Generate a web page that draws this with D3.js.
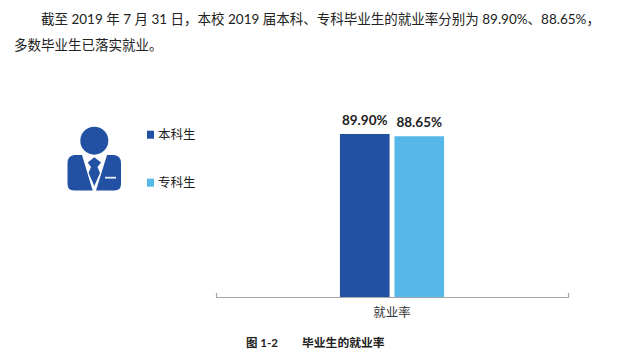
<!DOCTYPE html>
<html>
<head>
<meta charset="utf-8">
<script src="https://cdnjs.cloudflare.com/ajax/libs/d3/7.8.5/d3.min.js"></script>
<style>
html, body { margin: 0; padding: 0; background: #fff; }
svg { display: block; }
text { font-family: Lato, "Noto Sans CJK SC", sans-serif; fill: #222; }
</style>
</head>
<body>
<div id="chart"></div>
<script>
var categories = ["就业率"];
var series = ["本科生", "专科生"];
var values = [89.90, 88.65];
var value_labels = ["89.90%", "88.65%"];
var colors = ["#2251a3", "#56b7e9"];

var svg = d3.select("#chart").append("svg")
    .attr("width", 618)
    .attr("height", 359);

// intro paragraph
svg.append("text")
    .attr("x", 41).attr("y", 23.5)
    .attr("font-size", 13.5)
    .text("截至 2019 年 7 月 31 日，本校 2019 届本科、专科毕业生的就业率分别为 89.90%、88.65%，");
svg.append("text")
    .attr("x", 14).attr("y", 50)
    .attr("font-size", 13.5)
    .text("多数毕业生已落实就业。");

// scales
var x = d3.scaleBand()
    .domain(categories)
    .range([216, 568])
    .paddingOuter(1.19);

var x1 = d3.scaleBand()
    .domain(series)
    .range([x(categories[0]), x(categories[0]) + x.bandwidth()])
    .paddingInner(0.09);

var y = d3.scaleLinear()
    .domain([0, 100])
    .range([297, 115.7]);

// bars
svg.selectAll(".bar")
    .data(values)
  .enter().append("rect")
    .attr("class", "bar")
    .attr("x", function(d, i) { return x1(series[i]); })
    .attr("y", function(d) { return y(d); })
    .attr("width", x1.bandwidth())
    .attr("height", function(d) { return y(0) - y(d); })
    .attr("fill", function(d, i) { return colors[i]; });

svg.selectAll(".bar-label")
    .data(values)
  .enter().append("text")
    .attr("class", "bar-label")
    .attr("x", function(d, i) { return x1(series[i]) + x1.bandwidth() / 2; })
    .attr("y", function(d) { return y(d) - 9; })
    .attr("text-anchor", "middle")
    .attr("font-size", 13.5)
    .attr("font-weight", 700)
    .text(function(d, i) { return value_labels[i]; });

// axis, the outer ticks point upwards
var xAxis = d3.axisBottom(x)
    .tickSizeInner(0)
    .tickSizeOuter(-4)
    .tickPadding(11);
var axis_g = svg.append("g")
    .attr("transform", "translate(0,297)")
    .call(xAxis);
axis_g.select(".domain").attr("stroke", "#a6a6a6").attr("stroke-width", 1.2);
axis_g.selectAll("text")
    .attr("font-size", 12.5)
    .attr("font-family", "\"Noto Sans CJK SC\", sans-serif")
    .style("fill", "#333");

// legend
var legend_y = d3.scalePoint().domain(series).range([134.7, 182.7]);
var legend = svg.selectAll(".legend")
    .data(series)
  .enter().append("g")
    .attr("class", "legend")
    .attr("transform", function(d) { return "translate(147," + legend_y(d) + ")"; });
legend.append("rect")
    .attr("y", -4)
    .attr("width", 7)
    .attr("height", 8)
    .attr("fill", function(d, i) { return colors[i]; });
legend.append("text")
    .attr("x", 11)
    .attr("y", 4.5)
    .attr("font-size", 12.5)
    .text(function(d) { return d; });

// person icon
var icon = svg.append("g").attr("fill", colors[0]);
icon.append("circle").attr("cx", 94.3).attr("cy", 140.7).attr("r", 14);
icon.append("path").attr("d", "M82 155 L92.7 190.5 L74 190.5 Q67.5 190.5 67.5 184 L67.5 163 Q67.5 156 74 155 Z");
icon.append("path").attr("d", "M107 155 L96 190.5 L114.5 190.5 Q121 190.5 121 184 L121 163 Q121 156 114.5 155 Z");
icon.append("path").attr("d", "M94.3 157.3 L101 162.5 L97.5 167 L100 173 L94.3 186 L88.6 173 L91 167 L87.7 162.5 Z");
icon.append("rect")
    .attr("x", 105).attr("y", 176.8)
    .attr("width", 11).attr("height", 1.8)
    .attr("fill", "#e8eef7");

// figure caption
svg.append("text")
    .attr("x", 246).attr("y", 347)
    .attr("font-size", 11.5)
    .attr("font-weight", 700)
    .text("图 1-2");
svg.append("text")
    .attr("x", 302).attr("y", 347)
    .attr("font-size", 11.8)
    .attr("font-weight", 700)
    .text("毕业生的就业率");
</script>
</body>
</html>
